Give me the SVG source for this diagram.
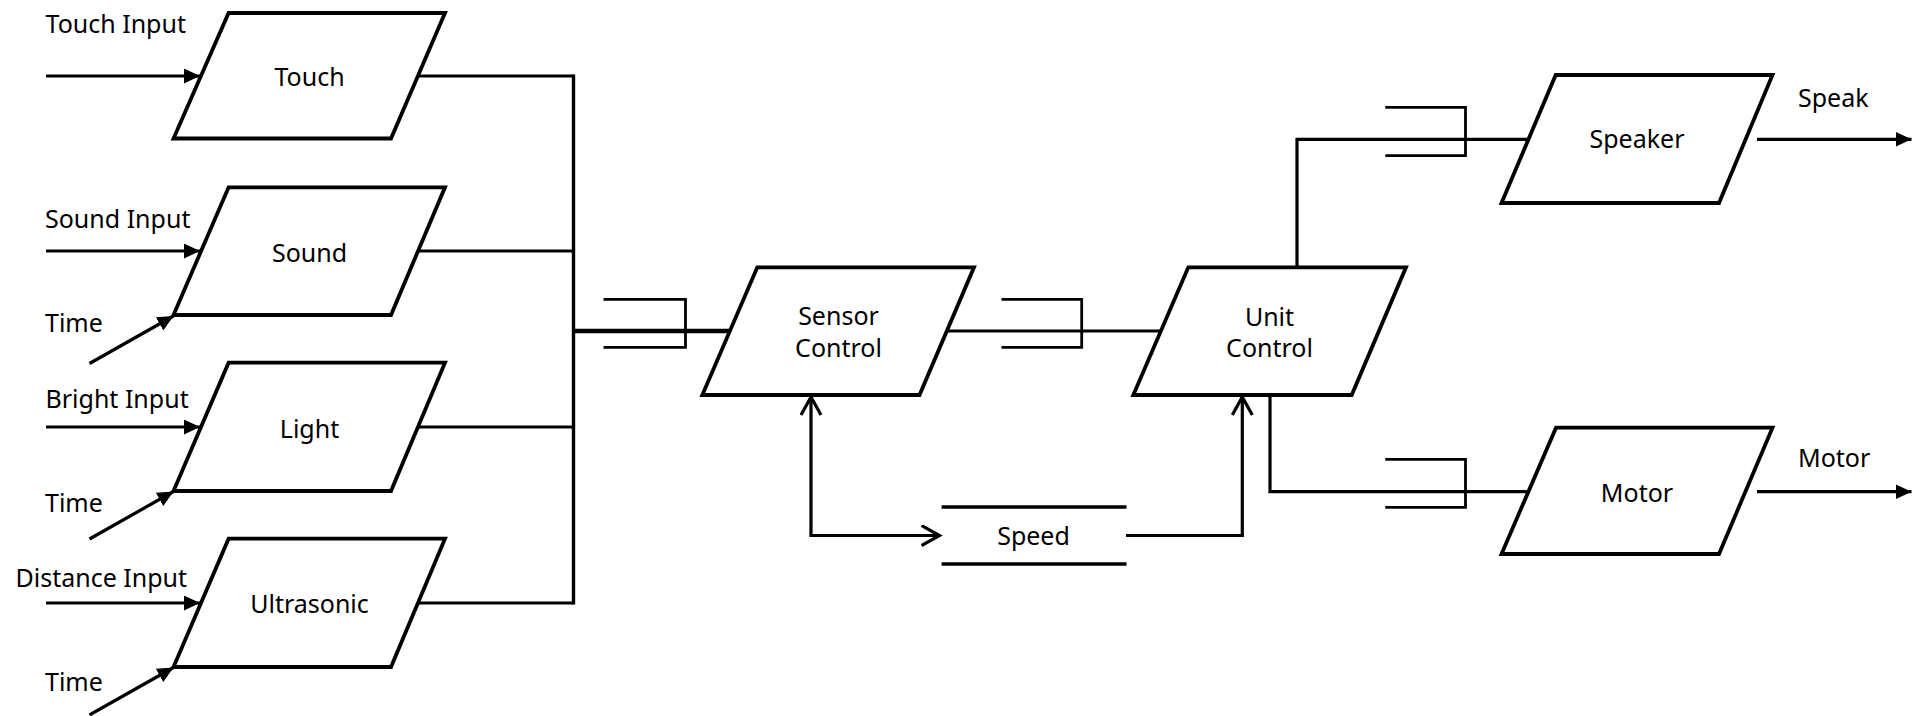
<svg xmlns="http://www.w3.org/2000/svg" width="1920" height="716" viewBox="0 0 1920 716">
  <style>
    .shape { fill: #fff; stroke: #000; stroke-width: 3.8; stroke-linejoin: miter; }
    .wire { fill: none; stroke: #000; stroke-width: 3.2; }
    .bracket { fill: none; stroke: #000; stroke-width: 2.8; }
    .store { stroke: #000; stroke-width: 3.6; }
    text { font-family: "Noto Sans", "Open Sans", sans-serif; font-size: 25px; fill: #000; }
    .c { text-anchor: middle; }
  </style>
  <defs>
    <marker id="solid" markerUnits="userSpaceOnUse" markerWidth="17" markerHeight="16" refX="16" refY="7.5" orient="auto">
      <path d="M0,0 L16,7.5 L0,15 z" fill="#000"/>
    </marker>
    <marker id="open" markerUnits="userSpaceOnUse" markerWidth="22" markerHeight="24" refX="19" refY="11" orient="auto-start-reverse">
      <path d="M1,1 L19,11 L1,21" fill="none" stroke="#000" stroke-width="3.2"/>
    </marker>
  </defs>

  <rect width="1920" height="716" fill="#fff"/>

  <!-- connectors -->
  <g id="connectors">
    <!-- sensor inputs -->
    <line class="wire" x1="46" y1="76" x2="200" y2="76" marker-end="url(#solid)"/>
    <line class="wire" x1="46" y1="251" x2="200" y2="251" marker-end="url(#solid)"/>
    <line class="wire" x1="89.5" y1="363.5" x2="173.5" y2="316" marker-end="url(#solid)"/>
    <line class="wire" x1="46" y1="427" x2="200" y2="427" marker-end="url(#solid)"/>
    <line class="wire" x1="89.5" y1="539" x2="173.5" y2="491.5" marker-end="url(#solid)"/>
    <line class="wire" x1="46" y1="603" x2="200" y2="603" marker-end="url(#solid)"/>
    <line class="wire" x1="89.5" y1="715" x2="173.5" y2="667.5" marker-end="url(#solid)"/>

    <!-- sensor outputs to bus -->
    <line class="wire" x1="418" y1="76" x2="573.5" y2="76"/>
    <line class="wire" x1="418" y1="251" x2="573.5" y2="251"/>
    <line class="wire" x1="418" y1="427" x2="573.5" y2="427"/>
    <line class="wire" x1="418" y1="603" x2="573.5" y2="603"/>
    <line class="wire" x1="573.5" y1="74.4" x2="573.5" y2="604.6" style="stroke-width:3.4"/>

    <!-- bus to Sensor Control -->
    <line class="wire" x1="573.5" y1="331" x2="730" y2="331" style="stroke-width:4.4"/>
    <path class="bracket" d="M603.5,299.3 H685.5 V347.3 H603.5"/>

    <!-- Sensor Control to Unit Control -->
    <line class="wire" x1="946.5" y1="331" x2="1161" y2="331"/>
    <path class="bracket" d="M1001.5,299.3 H1081.7 V347.3 H1001.5"/>

    <!-- Sensor Control <-> Speed -->
    <path class="wire" d="M811,397 V535.5 H939.5" marker-start="url(#open)" marker-end="url(#open)"/>

    <!-- Speed to Unit Control -->
    <path class="wire" d="M1126,535.5 H1242.3 V397" marker-end="url(#open)"/>

    <!-- Unit Control to Speaker -->
    <path class="wire" d="M1297,267.3 V139.3 H1528.5"/>
    <path class="bracket" d="M1385.3,107.3 H1465.5 V155.7 H1385.3"/>

    <!-- Unit Control to Motor -->
    <path class="wire" d="M1270,395 V491.7 H1528.5"/>
    <path class="bracket" d="M1385.3,459.3 H1465.5 V507.3 H1385.3"/>

    <!-- outputs -->
    <line class="wire" x1="1757" y1="139.3" x2="1911.5" y2="139.3" marker-end="url(#solid)"/>
    <line class="wire" x1="1757" y1="491.7" x2="1911.5" y2="491.7" marker-end="url(#solid)"/>
  </g>

  <!-- input labels -->
  <g id="labels">
    <text x="45.5" y="32.7">Touch Input</text>
    <text x="45" y="227.7">Sound Input</text>
    <text x="45" y="331.7">Time</text>
    <text x="45.5" y="407.7">Bright Input</text>
    <text x="45" y="512">Time</text>
    <text x="15.5" y="587">Distance Input</text>
    <text x="45" y="691">Time</text>
    <text x="1798" y="106.7">Speak</text>
    <text x="1798" y="467.3">Motor</text>
  </g>

  <g id="touch">
    <polygon class="shape" points="228.6,13 445,13 391,138.5 173.5,138.5"/>
    <text class="c" x="309.5" y="86">Touch</text>
  </g>
  <g id="sound">
    <polygon class="shape" points="228.6,187.3 445,187.3 391,315 173.5,315"/>
    <text class="c" x="309.5" y="261.7">Sound</text>
  </g>
  <g id="light">
    <polygon class="shape" points="228.6,362.7 445,362.7 391,491 173.5,491"/>
    <text class="c" x="309.5" y="437.7">Light</text>
  </g>
  <g id="ultrasonic">
    <polygon class="shape" points="228.6,538.7 445,538.7 391,667 173.5,667"/>
    <text class="c" x="309.5" y="612.7">Ultrasonic</text>
  </g>

  <g id="sensor-control">
    <polygon class="shape" points="757.3,267.3 974,267.3 919.5,395 702.3,395"/>
    <text class="c" x="838.5" y="325">Sensor</text>
    <text class="c" x="838.5" y="357.3">Control</text>
  </g>

  <g id="speed">
    <line class="store" x1="941.6" y1="507" x2="1126.5" y2="507"/>
    <line class="store" x1="941.6" y1="564" x2="1126.5" y2="564"/>
    <text class="c" x="1033.5" y="545">Speed</text>
  </g>

  <g id="unit-control">
    <polygon class="shape" points="1188.3,267.3 1406,267.3 1351.7,395 1133.3,395"/>
    <text class="c" x="1269.5" y="326">Unit</text>
    <text class="c" x="1269.5" y="357.3">Control</text>
  </g>

  <g id="speaker">
    <polygon class="shape" points="1555.7,75 1772.5,75 1719,203 1501.5,203"/>
    <text class="c" x="1637" y="148">Speaker</text>
  </g>

  <g id="motor">
    <polygon class="shape" points="1556,427.7 1772.5,427.7 1719,554 1501.5,554"/>
    <text class="c" x="1637" y="501.7">Motor</text>
  </g>
</svg>
